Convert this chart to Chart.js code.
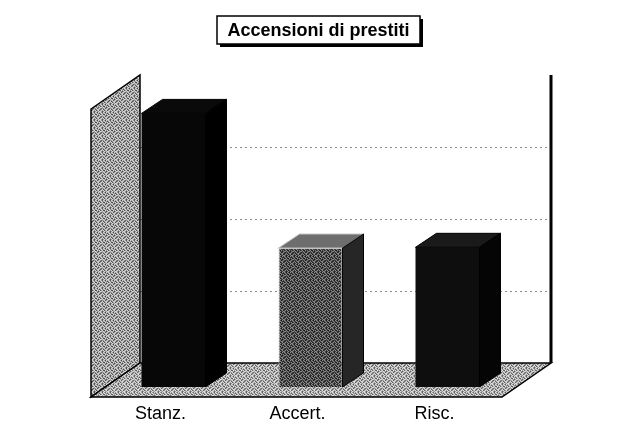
<!DOCTYPE html>
<html lang="it">
<head>
<meta charset="utf-8">
<title>Accensioni di prestiti</title>
<script src="https://cdn.jsdelivr.net/npm/chart.js@4.4.1/dist/chart.umd.min.js"></script>
<style>
  html, body { margin: 0; padding: 0; background: #fff; }
  #wrap { width: 622px; height: 437px; }
</style>
</head>
<body>
<div id="wrap"><canvas id="grafico" width="622" height="437"></canvas></div>
<script>
// dati
const categorie = ["Stanz.", "Accert.", "Risc."];
const valori = [190, 96.5, 97];
const tacche = [0, 50, 100, 150, 200];

// prospettiva: spostamento del piano anteriore e di quello di fondo
// rispetto al piano delle colonne, e profondità della colonna
const AVANTI = { dx: -14, dy: 10 };
const FONDO = { dx: 35, dy: -24 };
const COLONNA = { dx: 21, dy: -14 };

// retino 8x8 a tre toni, irregolare, per pareti, pavimento e colonna grigia
const SCHEMA = [
  [2, 0, 1, 2, 1, 2, 0, 1],
  [1, 2, 2, 0, 2, 1, 2, 2],
  [0, 1, 2, 1, 0, 2, 1, 0],
  [2, 2, 0, 2, 1, 1, 2, 1],
  [1, 0, 2, 1, 2, 0, 2, 2],
  [2, 1, 1, 2, 0, 2, 1, 0],
  [0, 2, 1, 0, 2, 1, 2, 1],
  [1, 2, 2, 1, 1, 2, 0, 2]
];
function retino(toni) {
  const c = document.createElement("canvas");
  c.width = 8;
  c.height = 8;
  const g = c.getContext("2d");
  SCHEMA.forEach((riga, r) => riga.forEach((t, k) => {
    g.fillStyle = toni[t];
    g.fillRect(k, r, 1, 1);
  }));
  return g.createPattern(c, "repeat");
}
const retinoParete = retino(["#505050", "#d4d4d4", "#9a9a9a"]);
const retinoPavimento = retino(["#606060", "#dcdcdc", "#a4a4a4"]);
const retinoGrigio = retino(["#1c1c1c", "#8a8a8a", "#444444"]);

// colori delle colonne: fronte, faccia superiore, fianco
const coloriFronte = ["#070707", retinoGrigio, "#0e0e0e"];
const coloriSopra = ["#0a0a0a", "#6e6e6e", "#1a1a1a"];
const coloriFianco = ["#000000", "#262626", "#050505"];
const coloriBordo = ["#000000", "#c4c4c4", "#000000"];

function poligono(ctx, punti) {
  ctx.beginPath();
  ctx.moveTo(punti[0][0], punti[0][1]);
  for (let i = 1; i < punti.length; i++) ctx.lineTo(punti[i][0], punti[i][1]);
  ctx.closePath();
}

const stanza3d = {
  id: "stanza3d",
  beforeDatasetsDraw(chart) {
    const { ctx, chartArea: a, scales } = chart;
    ctx.save();

    // parete di fondo
    ctx.fillStyle = "#ffffff";
    ctx.fillRect(a.left + FONDO.dx, a.top + FONDO.dy, a.right - a.left, a.bottom - a.top);

    // griglia tratteggiata sulla parete di fondo
    ctx.strokeStyle = "#8a8a8a";
    ctx.lineWidth = 1;
    ctx.setLineDash([2, 3]);
    tacche.slice(1, -1).forEach((v) => {
      const yy = Math.round(scales.y.getPixelForValue(v) + FONDO.dy) + 0.5;
      ctx.beginPath();
      ctx.moveTo(a.left + FONDO.dx, yy);
      ctx.lineTo(a.right + FONDO.dx, yy);
      ctx.stroke();
    });
    ctx.setLineDash([]);

    // parete laterale sinistra
    poligono(ctx, [
      [a.left + AVANTI.dx, a.top + AVANTI.dy],
      [a.left + FONDO.dx, a.top + FONDO.dy],
      [a.left + FONDO.dx, a.bottom + FONDO.dy],
      [a.left + AVANTI.dx, a.bottom + AVANTI.dy]
    ]);
    ctx.fillStyle = retinoParete;
    ctx.fill();
    ctx.strokeStyle = "#000";
    ctx.lineWidth = 1.5;
    ctx.stroke();

    // pavimento
    poligono(ctx, [
      [a.left + AVANTI.dx, a.bottom + AVANTI.dy],
      [a.right + AVANTI.dx, a.bottom + AVANTI.dy],
      [a.right + FONDO.dx, a.bottom + FONDO.dy],
      [a.left + FONDO.dx, a.bottom + FONDO.dy]
    ]);
    ctx.fillStyle = retinoPavimento;
    ctx.fill();
    ctx.stroke();

    // spigolo destro della parete di fondo
    ctx.lineWidth = 3;
    ctx.beginPath();
    ctx.moveTo(a.right + FONDO.dx, a.top + FONDO.dy);
    ctx.lineTo(a.right + FONDO.dx, a.bottom + FONDO.dy);
    ctx.stroke();

    ctx.restore();
  },
  afterDatasetsDraw(chart) {
    const { ctx } = chart;
    const meta = chart.getDatasetMeta(0);
    ctx.save();
    meta.data.forEach((bar, i) => {
      const { x, y, base, width } = bar.getProps(["x", "y", "base", "width"], true);
      const sx = x - width / 2;
      const dx = x + width / 2;
      // faccia superiore
      poligono(ctx, [
        [sx, y], [dx, y],
        [dx + COLONNA.dx, y + COLONNA.dy], [sx + COLONNA.dx, y + COLONNA.dy]
      ]);
      ctx.fillStyle = coloriSopra[i];
      ctx.fill();
      ctx.strokeStyle = coloriBordo[i];
      ctx.lineWidth = 1;
      ctx.stroke();
      // fianco destro
      poligono(ctx, [
        [dx, y], [dx + COLONNA.dx, y + COLONNA.dy],
        [dx + COLONNA.dx, base + COLONNA.dy], [dx, base]
      ]);
      ctx.fillStyle = coloriFianco[i];
      ctx.fill();
      ctx.strokeStyle = "#000";
      ctx.stroke();
    });
    ctx.restore();
  },
  afterDraw(chart) {
    // titolo in riquadro con ombra
    const { ctx } = chart;
    const box = { x: 217, y: 16, w: 203, h: 28 };
    ctx.save();
    ctx.fillStyle = "#000";
    ctx.fillRect(box.x + 3, box.y + 3, box.w, box.h);
    ctx.fillStyle = "#fff";
    ctx.fillRect(box.x, box.y, box.w, box.h);
    ctx.strokeStyle = "#000";
    ctx.lineWidth = 1.5;
    ctx.strokeRect(box.x, box.y, box.w, box.h);
    ctx.fillStyle = "#000";
    ctx.font = "bold 18px 'Liberation Sans', Arial, sans-serif";
    ctx.textAlign = "center";
    ctx.textBaseline = "middle";
    ctx.fillText("Accensioni di prestiti", box.x + box.w / 2, box.y + box.h / 2 + 1);
    ctx.restore();
  }
};

new Chart(document.getElementById("grafico"), {
  type: "bar",
  data: {
    labels: categorie,
    datasets: [{
      data: valori,
      backgroundColor: coloriFronte,
      borderColor: coloriBordo,
      borderWidth: [0, 1, 0],
      barPercentage: 0.467,
      categoryPercentage: 1
    }]
  },
  options: {
    responsive: false,
    animation: false,
    devicePixelRatio: 1,
    layout: { padding: { left: 105, right: 106, top: 99, bottom: 12 } },
    plugins: {
      legend: { display: false },
      tooltip: { enabled: false },
      title: { display: false }
    },
    scales: {
      x: {
        grid: { display: false, drawTicks: false },
        border: { display: false },
        ticks: {
          color: "#000",
          padding: 16,
          labelOffset: -13,
          font: { family: "'Liberation Sans', Arial, sans-serif", size: 18 }
        },
        // altezza fissa dell'asse, così il pavimento resta vicino alle etichette
        afterFit(scale) { scale.height = 38; }
      },
      y: {
        display: false,
        min: tacche[0],
        max: tacche[tacche.length - 1],
        ticks: { stepSize: 50 }
      }
    }
  },
  plugins: [stanza3d]
});
</script>
</body>
</html>
